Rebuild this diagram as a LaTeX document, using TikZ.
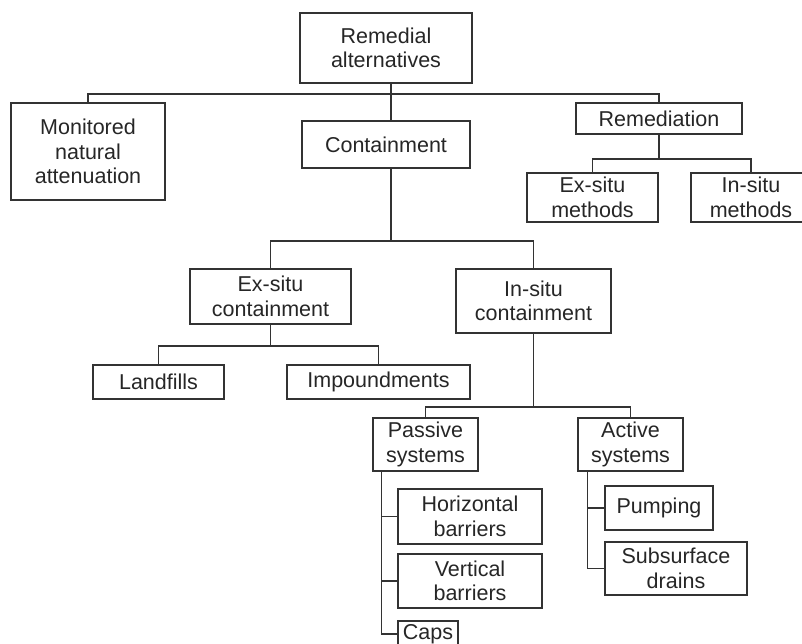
\documentclass[tikz,border=0pt]{standalone}
\usepackage{fontspec}
\setmainfont{Liberation Sans}
\usepackage{tikz}

\begin{document}
\begin{tikzpicture}[x=1pt, y=-1pt,
	box/.style={draw=black!80, line width=1.5pt, text=black!85, align=center,
		inner sep=0pt, font=\fontsize{21.5}{24.5}\selectfont},
	link/.style={draw=black!80, line width=1.5pt}]
	\path[use as bounding box, clip] (0,0) rectangle (802,643);
	% top level
	\node (root) at (386,48) [box, minimum width=172pt, minimum height=70pt] {Remedial\\alternatives};
	\node (mna) at (88,151.5) [box, minimum width=154pt, minimum height=97pt] {Monitored\\natural\\attenuation};
	\node (cont) at (386,144.5) [box, minimum width=168pt, minimum height=47pt] {Containment};
	\node (rem) at (659,118.5) [box, minimum width=166pt, minimum height=31pt] {Remediation};
	\node (exm) at (592.5,197.5) [box, minimum width=131pt, minimum height=49pt] {Ex-situ\\methods};
	\node (inm) at (751,197.5) [box, minimum width=120pt, minimum height=49pt] {In-situ\\methods};
	% containment
	\node (exc) at (270.5,296.5) [box, minimum width=161pt, minimum height=55pt] {Ex-situ\\containment};
	\node (inc) at (533.5,301) [box, minimum width=155pt, minimum height=64pt] {In-situ\\containment};
	\node (land) at (158.5,382) [box, minimum width=131pt, minimum height=34pt] {Landfills};
	\node (imp) at (378.5,382) [box, minimum width=183pt, minimum height=34pt] {Impoundments};
	% in-situ systems
	\node (pas) at (425.5,444.5) [box, minimum width=105pt, minimum height=53pt] {Passive\\systems};
	\node (act) at (630.5,444.5) [box, minimum width=105pt, minimum height=53pt] {Active\\systems};
	\node (hor) at (470,516.5) [box, minimum width=144pt, minimum height=55pt] {Horizontal\\barriers};
	\node (ver) at (470,581) [box, minimum width=144pt, minimum height=54pt] {Vertical\\barriers};
	\node (caps) at (428,634) [box, minimum width=60pt, minimum height=26pt] {Caps};
	\node (pump) at (659,508) [box, minimum width=108pt, minimum height=44pt] {Pumping};
	\node (sub) at (676,568.5) [box, minimum width=142pt, minimum height=53pt] {Subsurface\\drains};

	% connectors
	\coordinate (j1) at ([xshift=5pt,yshift=-10pt]root.south);
	\draw[link] (root.south -| j1) -- (cont.north -| j1);
	\draw[link] (mna.north) |- (j1) -| (rem.north);
	\path (cont.south -| j1) ++(0,72) coordinate (j2);
	\draw[link] (cont.south -| j1) -- (j2);
	\draw[link] (exc.north) |- (j2) -| (inc.north);
	\path (rem.south) ++(0,24) coordinate (j5);
	\draw[link] (rem.south) -- (j5);
	\draw[link] (exm.north) |- (j5) -| (inm.north);
	\path (exc.south) ++(0,21) coordinate (j3);
	\draw[link] (exc.south) -- (j3);
	\draw[link] (land.north) |- (j3) -| (imp.north);
	\path (inc.south) ++(0,73) coordinate (j4);
	\draw[link] (inc.south) -- (j4);
	\draw[link] (pas.north) |- (j4) -| (act.north);
	\coordinate (sp) at ([xshift=9pt]pas.south west);
	\draw[link] (sp) |- (hor.west);
	\draw[link] (sp) |- (ver.west);
	\draw[link] (sp) |- (caps.west);
	\coordinate (sa) at ([xshift=10pt]act.south west);
	\draw[link] (sa) |- (pump.west);
	\draw[link] (sa) |- (sub.west);
\end{tikzpicture}
\end{document}
